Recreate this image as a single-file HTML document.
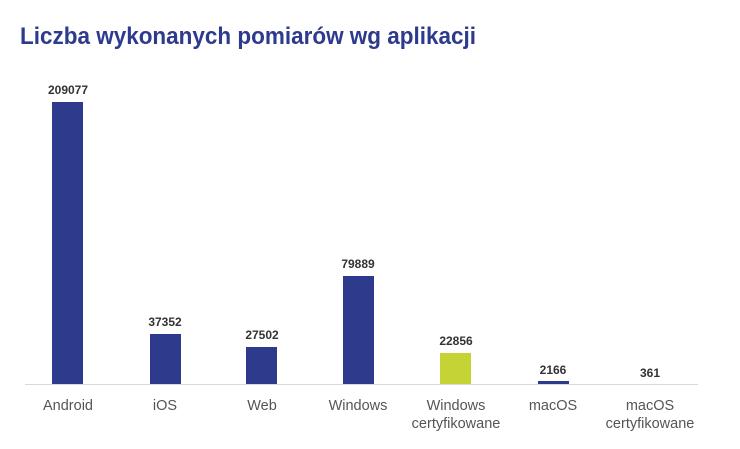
<!DOCTYPE html>
<html><head><meta charset="utf-8"><style>body{margin:0;background:#fff}svg{display:block}</style></head>
<body>
<svg width="740" height="449" viewBox="0 0 740 449" xmlns="http://www.w3.org/2000/svg" font-family="Liberation Sans, sans-serif">
<text x="20" y="44" font-size="24" font-weight="bold" fill="#2e3a8c" textLength="456" lengthAdjust="spacingAndGlyphs">Liczba wykonanych pomiarów wg aplikacji</text>
<line x1="25" y1="384.5" x2="698" y2="384.5" stroke="#d9d9d9" stroke-width="1"/>
<g fill="#2e3a8c">
<rect x="52" y="102" width="31" height="282"/>
<rect x="150" y="334" width="31" height="50"/>
<rect x="246" y="347" width="31" height="37"/>
<rect x="343" y="276" width="31" height="108"/>
<rect x="538" y="381" width="31" height="3"/>
</g>
<rect x="440" y="353" width="31" height="31" fill="#c5d335"/>
<g font-size="12" font-weight="bold" fill="#333" text-anchor="middle">
<text x="68" y="94">209077</text>
<text x="165" y="326">37352</text>
<text x="262" y="339">27502</text>
<text x="358" y="268">79889</text>
<text x="456" y="345">22856</text>
<text x="553" y="374">2166</text>
<text x="650" y="377">361</text>
</g>
<g font-size="14.5" fill="#555" text-anchor="middle">
<text x="68" y="410">Android</text>
<text x="165" y="410">iOS</text>
<text x="262" y="410">Web</text>
<text x="358" y="410">Windows</text>
<text x="456" y="410">Windows</text>
<text x="456" y="428">certyfikowane</text>
<text x="553" y="410">macOS</text>
<text x="650" y="410">macOS</text>
<text x="650" y="428">certyfikowane</text>
</g>
</svg>
</body></html>
